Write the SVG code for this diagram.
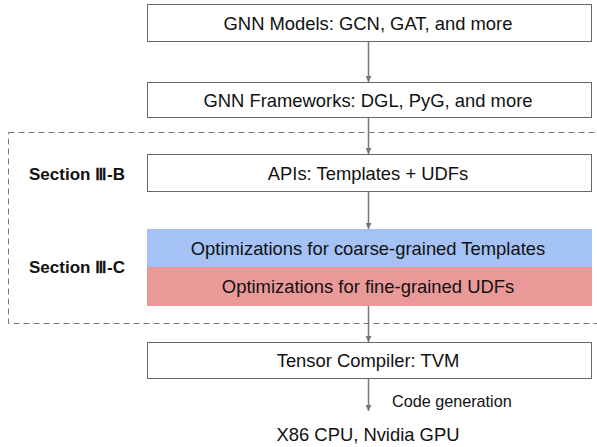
<svg xmlns="http://www.w3.org/2000/svg" width="597" height="447" viewBox="0 0 597 447">
<defs>
<style>
.box{fill:#fff;stroke:#666;stroke-width:1}
.t{font-family:"Liberation Sans",Arial,sans-serif;font-size:18.4px;fill:#111;text-anchor:middle}
.s{font-family:"Liberation Sans",Arial,sans-serif;font-size:17px;font-weight:bold;fill:#111}
.c{stroke:#777;stroke-width:1.5;fill:none;marker-end:url(#ah)}
</style>
<marker id="ah" viewBox="0 0 10 10" refX="10" refY="5" markerWidth="6" markerHeight="6" markerUnits="userSpaceOnUse" orient="auto"><path d="M0,0L10,5L0,10z" fill="#777"/></marker>
</defs>
<rect x="0" y="0" width="597" height="447" fill="#fff"/>
<rect id="section-frame" x="8.5" y="132.5" width="600" height="191" fill="none" stroke="#777" stroke-width="1" stroke-dasharray="6,4"/>
<g id="connectors">
<line class="c" x1="368.5" y1="42" x2="368.5" y2="82"/>
<line class="c" x1="368.5" y1="118" x2="368.5" y2="154"/>
<line class="c" x1="368.5" y1="192" x2="368.5" y2="229"/>
<line class="c" x1="368.5" y1="306" x2="368.5" y2="342"/>
<line class="c" x1="368.5" y1="379" x2="368.5" y2="411"/>
<text class="t" x="392" y="407" style="text-anchor:start;font-size:16.2px">Code generation</text>
</g>
<g id="models"><rect class="box" x="147.5" y="4.5" width="444" height="37"/><text class="t" x="368" y="29.5">GNN Models: GCN, GAT, and more</text></g>
<g id="frameworks"><rect class="box" x="147.5" y="82.5" width="444" height="35"/><text class="t" x="368" y="106.5">GNN Frameworks: DGL, PyG, and more</text></g>
<g id="sectionB"><text class="s" x="29" y="180">Section Ⅲ-B</text></g>
<g id="apis"><rect class="box" x="147.5" y="154.5" width="444" height="37"/><text class="t" x="368" y="179.5">APIs: Templates + UDFs</text></g>
<g id="sectionC"><text class="s" x="29" y="273">Section Ⅲ-C</text></g>
<g id="coarse"><rect x="147" y="229" width="445" height="38" fill="#a4c2f4"/><text class="t" x="368" y="254.5">Optimizations for coarse-grained Templates</text></g>
<g id="fine"><rect x="147" y="267" width="445" height="39" fill="#ea9999"/><text class="t" x="368" y="292.5">Optimizations for fine-grained UDFs</text></g>
<g id="tvm"><rect class="box" x="147.5" y="342.5" width="444" height="36"/><text class="t" x="368" y="367">Tensor Compiler: TVM</text></g>
<g id="target"><text class="t" x="368" y="441">X86 CPU, Nvidia GPU</text></g>
</svg>
